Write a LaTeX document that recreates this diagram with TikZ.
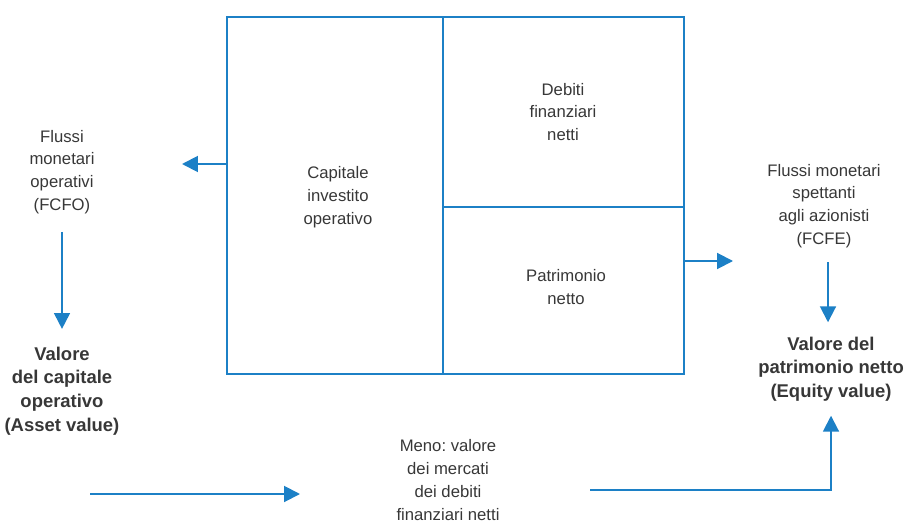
\documentclass[tikz,border=0pt]{standalone}
\usepackage{fontspec}
\setmainfont{Liberation Sans}
\usetikzlibrary{arrows.meta}
\definecolor{schemablu}{RGB}{28,128,198}
\definecolor{testo}{RGB}{55,55,55}
\frenchspacing
\begin{document}
\begin{tikzpicture}[x=0.02cm,y=-0.02cm,
  bordo/.style={draw=schemablu,line width=1.1pt},
  freccia/.style={bordo,-{Triangle[length=9pt,width=9pt]}},
  voce/.style={align=center,text=testo,inner sep=0pt,font=\fontsize{9.5}{13}\selectfont},
  valore/.style={voce,font=\bfseries\fontsize{10.5}{13.5}\selectfont}]
\useasboundingbox (0,0) rectangle (905,530);
% stato patrimoniale
\draw[bordo] (227,17) rectangle (684,374);
\draw[bordo] (443,17) -- (443,374);
\draw[bordo] (443,207) -- (684,207);
\node[voce](cio) at (338,197) {Capitale\\investito\\operativo};
\node[voce](dfn) at (563,112) {Debiti\\finanziari\\netti};
\node[voce](pn) at (566,287) {Patrimonio\\netto};
% lato sinistro
\coordinate (sx) at (227,164);
\coordinate (sxp) at (182,164);
\draw[freccia] (sx)--(sxp);
\node[voce](fcfo) at (62,172) {Flussi\\monetari\\operativi\\(FCFO)};
\node[valore](asset) at (62,391) {Valore\\del capitale\\operativo\\(Asset value)};
\draw[freccia,shorten <=10pt,shorten >=10pt] (fcfo)--(asset);
% lato destro
\coordinate (dx) at (684,261);
\coordinate (dxp) at (733,261);
\draw[freccia] (dx)--(dxp);
\node[voce](fcfe) at (824,206) {Flussi monetari\\spettanti\\agli azionisti\\(FCFE)};
\node[valore](equity) at (831,369) {Valore del\\patrimonio netto\\(Equity value)};
\draw[freccia,shorten <=8pt,shorten >=8pt] (fcfe.south -| 828,0)--(equity.north -| 828,0);
% in basso
\node[voce](meno) at (448,480) {Meno: valore\\dei mercati\\dei debiti\\finanziari netti};
\coordinate (in) at (90,494);
\coordinate (inp) at (300,494);
\coordinate (fin) at (590,490);
\draw[freccia] (in)--(inp);
\draw[freccia,shorten >=8pt] (fin)--(fin -| equity.south)--(equity.south);
\end{tikzpicture}
\end{document}
